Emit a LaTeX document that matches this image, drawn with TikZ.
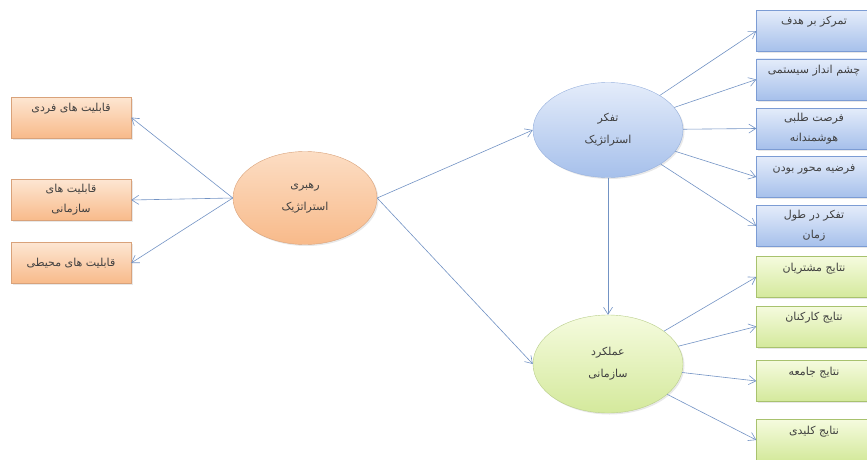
\documentclass[tikz,border=0pt]{standalone}
\usepackage{fontspec}
\newfontfamily\arabicfont[Script=Arabic]{DejaVu Sans}
\TeXXeTstate=1
\usetikzlibrary{shapes.geometric,arrows.meta,shadows}
\newcommand{\rl}[1]{\beginR#1\endR}
\definecolor{link}{HTML}{7393C4}
\definecolor{orTop}{HTML}{FDE6D2}
\definecolor{orBot}{HTML}{F8BA8A}
\definecolor{orLine}{HTML}{D9A27A}
\definecolor{blTop}{HTML}{E4ECFA}
\definecolor{blBot}{HTML}{A6C0EB}
\definecolor{blLine}{HTML}{7C9CD4}
\definecolor{grTop}{HTML}{F5FBDE}
\definecolor{grBot}{HTML}{D4E99C}
\definecolor{grLine}{HTML}{A8C26E}

\tikzset{
  base/.style={draw, align=center, inner sep=4pt, text=black!75,
    font=\arabicfont\fontsize{11}{20}\selectfont,
    drop shadow={opacity=0.18, shadow xshift=1.5pt, shadow yshift=-1.5pt}},
  capbox/.style={base, rectangle, minimum width=120pt, minimum height=41pt,
    top color=orTop, bottom color=orBot, draw=orLine},
  thinkbox/.style={base, rectangle, minimum width=115pt, minimum height=41pt,
    top color=blTop, bottom color=blBot, draw=blLine},
  resbox/.style={base, rectangle, minimum width=115pt, minimum height=41pt,
    top color=grTop, bottom color=grBot, draw=grLine},
  toptext/.style={text height=8pt, text depth=20pt},
  bigell/.style={base, ellipse, font=\arabicfont\fontsize{11}{22}\selectfont},
  link/.style={draw=link, line width=0.6pt, -{Straight Barb[length=7pt,width=9pt]}}
}

\begin{document}
\begin{tikzpicture}[x=1pt, y=-1pt]
\useasboundingbox (0,0) rectangle (867,460);

% capabilities
\node[capbox, toptext] (indiv) at (71,117.5) {\rl{قابلیت های فردی}};
\node[capbox] (org) at (71,200) {\rl{قابلیت های}\\\rl{سازمانی}};
\node[capbox] (env) at (71,263) {\rl{قابلیت های محیطی}};

% ellipses
\node[bigell, minimum width=144pt, minimum height=93pt,
  top color=orTop!80!orBot, bottom color=orBot, draw=orLine]
  (lead) at (305,198) {\rl{رهبری}\\\rl{استراتژیک}};
\node[bigell, minimum width=150pt, minimum height=95pt,
  top color=blTop, bottom color=blBot, draw=blLine!80!white]
  (think) at (608,130) {\rl{تفکر}\\\rl{استراتژیک}};
\node[bigell, minimum width=150pt, minimum height=98pt,
  top color=grTop, bottom color=grBot, draw=grLine!80!white]
  (perf) at (608,364) {\rl{عملکرد}\\\rl{سازمانی}};

% strategic thinking items
\node[thinkbox, toptext] (t1) at (814,31) {\rl{تمرکز بر هدف}};
\node[thinkbox, toptext] (t2) at (814,79.5) {\rl{چشم انداز سیستمی}};
\node[thinkbox] (t3) at (814,128.5) {\rl{فرصت طلبی}\\\rl{هوشمندانه}};
\node[thinkbox, toptext] (t4) at (814,177) {\rl{فرضیه محور بودن}};
\node[thinkbox] (t5) at (814,226) {\rl{تفکر در طول}\\\rl{زمان}};

% results
\node[resbox, toptext] (p1) at (814,277) {\rl{نتایج مشتریان}};
\node[resbox, toptext] (p2) at (814,326.5) {\rl{نتایج کارکنان}};
\node[resbox, toptext] (p3) at (814,381) {\rl{نتایج جامعه}};
\node[resbox, toptext] (p4) at (814,440) {\rl{نتایج کلیدی}};

% connectors
\foreach \c in {indiv,org,env}
  \draw[link] (lead.west) -- (\c.east);
\draw[link] (lead.east) -- (think.west);
\draw[link] (lead.east) -- (perf.west);
\draw[link] (think.south) -- (perf.north);
\foreach \c in {t1,t2,t3,t4,t5}
  \draw[link] (think) -- (\c.west);
\foreach \c in {p1,p2,p3,p4}
  \draw[link] (perf) -- (\c.west);
\end{tikzpicture}
\end{document}
